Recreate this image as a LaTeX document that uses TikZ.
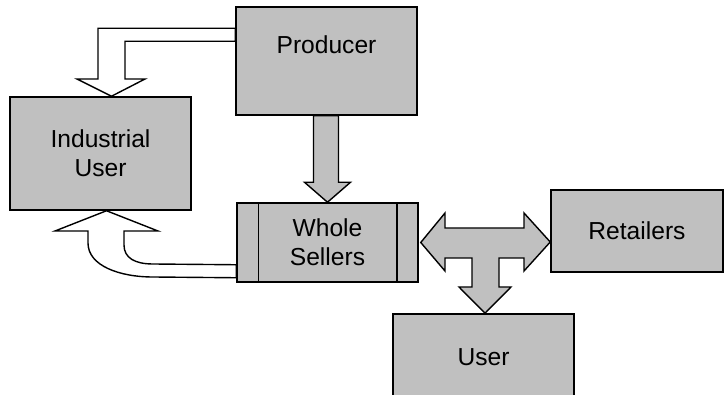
\documentclass[tikz,border=0pt]{standalone}
\usepackage{fontspec}
\setmainfont{Liberation Sans}
\definecolor{boxgray}{RGB}{192,192,192}
\tikzset{
	box/.style={draw,fill=boxgray,line width=1.5pt,align=center,inner sep=0pt,font=\fontsize{24.6}{29}\selectfont},
	fullarrow/.style={draw,fill=boxgray,line width=1.4pt,line join=miter},
	openarrow/.style={draw,fill=white,line width=1.4pt,line join=miter}
}
\begin{document}
\begin{tikzpicture}[x=1pt,y=-1pt]
				\clip (0,0) rectangle (724,395);
				\node [box,minimum width=181pt,minimum height=108pt,text height=18pt,text depth=32pt] (prod) at (326.5,61) {Producer};
				\node [box,minimum width=181pt,minimum height=113pt] (indu) at (100.5,153.5) {Industrial\\User};
				\node [box,minimum width=181pt,minimum height=79pt] (whole) at (327.5,242.5) {Whole\\Sellers};
				\node [box,minimum width=172pt,minimum height=82pt] (retail) at (637,231) {Retailers};
				\node [box,minimum width=181pt,minimum height=86pt] (user) at (483.5,357) {User};
				\draw [line width=1.5pt] ([xshift=22pt]whole.north west) -- ([xshift=22pt]whole.south west);
				\draw [line width=1.5pt] ([xshift=-22pt]whole.north east) -- ([xshift=-22pt]whole.south east);
				\coordinate (P1) at ([yshift=-22pt]prod.north west);
				\coordinate (P2) at ([yshift=-35pt]prod.north west);
				\coordinate (I1) at ([xshift=11pt]indu.north);
				\coordinate (W1) at ([yshift=5pt]whole.south west);
				\coordinate (W2) at ([yshift=18pt]whole.south west);
				\coordinate (I2) at ([xshift=6pt]indu.south);
				\coordinate (W3) at ([xshift=2pt]whole.east);
				\coordinate (R1) at ([yshift=-11pt]retail.west);
				\coordinate (U1) at ([xshift=1.5pt]user.north);
				\draw [fullarrow] ([xshift=-13pt]prod.south) |- ([xshift=-23pt,yshift=20pt]whole.north) -- (whole.north)
					-- ([xshift=23pt,yshift=20pt]whole.north) -| ([xshift=12pt]prod.south) -- cycle;
				\draw [openarrow] (P1) -| (98,79) -- (77,79) -- (I1) -- (145,79) -- (125,79) |- (P2) -- cycle;
				\draw [openarrow] (W1) -- (153,277) .. controls (120,277) and (88,266) .. (88,243) -- (88,231) -- (55,231)
					-- (I2) -- (158,231) -- (124,231) -- (124,245) .. controls (124,258) and (135,264) .. (153,264) -- (W2) -- cycle;
				\draw [fullarrow] (W3) -- (445,213) -- (445,228) -- (524,228) -- (524,213) -- (R1) -- (524,271) -- (524,258)
					-- (499,258) -- (499,287) -- (511,287) -- (U1) -- (459,287) -- (472,287) -- (472,258) -- (445,258) -- (445,271) -- cycle;
\end{tikzpicture}
\end{document}
